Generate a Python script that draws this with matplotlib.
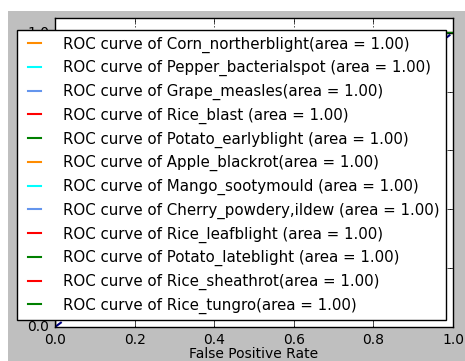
import matplotlib
matplotlib.use("Agg")
import matplotlib.pyplot as plt
from matplotlib.patches import Rectangle

plt.style.use("classic")
plt.rcParams["font.family"] = ["DejaVu Sans"]

classes = [
    "Corn_northerblight", "Pepper_bacterialspot ", "Grape_measles", "Rice_blast ",
    "Potato_earlyblight ", "Apple_blackrot", "Mango_sootymould ", "Cherry_powdery,ildew ",
    "Rice_leafblight ", "Potato_lateblight ", "Rice_sheathrot", "Rice_tungro",
]
roc_auc = [1.00] * 12
fpr = [[0.0, 0.0, 1.0]] * 12
tpr = [[0.0, 1.0, 1.0]] * 12
colors = ["darkorange", "aqua", "cornflowerblue", "red", "green",
          "darkorange", "aqua", "cornflowerblue", "red", "green", "red", "green"]

fig = plt.figure(figsize=(4.65, 3.61), dpi=100, facecolor="white")
fig.patches.append(Rectangle((8 / 465, 0), 1, 350 / 361, transform=fig.transFigure,
                             facecolor="#bfbfbf", edgecolor="none", zorder=-10))
ax = fig.add_axes([55 / 465, 34 / 361, 398 / 465, 309 / 361])

for i in range(len(classes)):
    ax.plot(fpr[i], tpr[i], color=colors[i], lw=1.5,
            label="ROC curve of {0}(area = {1:0.2f})".format(classes[i], roc_auc[i]))
ax.plot([0, 1], [0, 1], color="navy", lw=1.5, linestyle="--")
ax.set_xlim(0.0, 1.0)
ax.set_ylim(0.0, 1.05)
ax.grid(True)
ax.tick_params(labelsize=10)
ax.set_xlabel("False Positive Rate", fontsize=10, labelpad=0)
ylab = ax.set_ylabel("True Positive Rate", fontsize=10)
ylab.set_horizontalalignment("center")
ylab.set_verticalalignment("bottom")
ylab.set_rotation_mode("anchor")
ax.yaxis.set_label_coords(-0.055, 0.5)
ax.legend(loc="lower right", fontsize=10.85, borderpad=0.42, handlelength=1.46,
          handletextpad=1.2, labelspacing=0.5, borderaxespad=0.46)

fig.savefig("out.png", dpi=100, facecolor=fig.get_facecolor())
